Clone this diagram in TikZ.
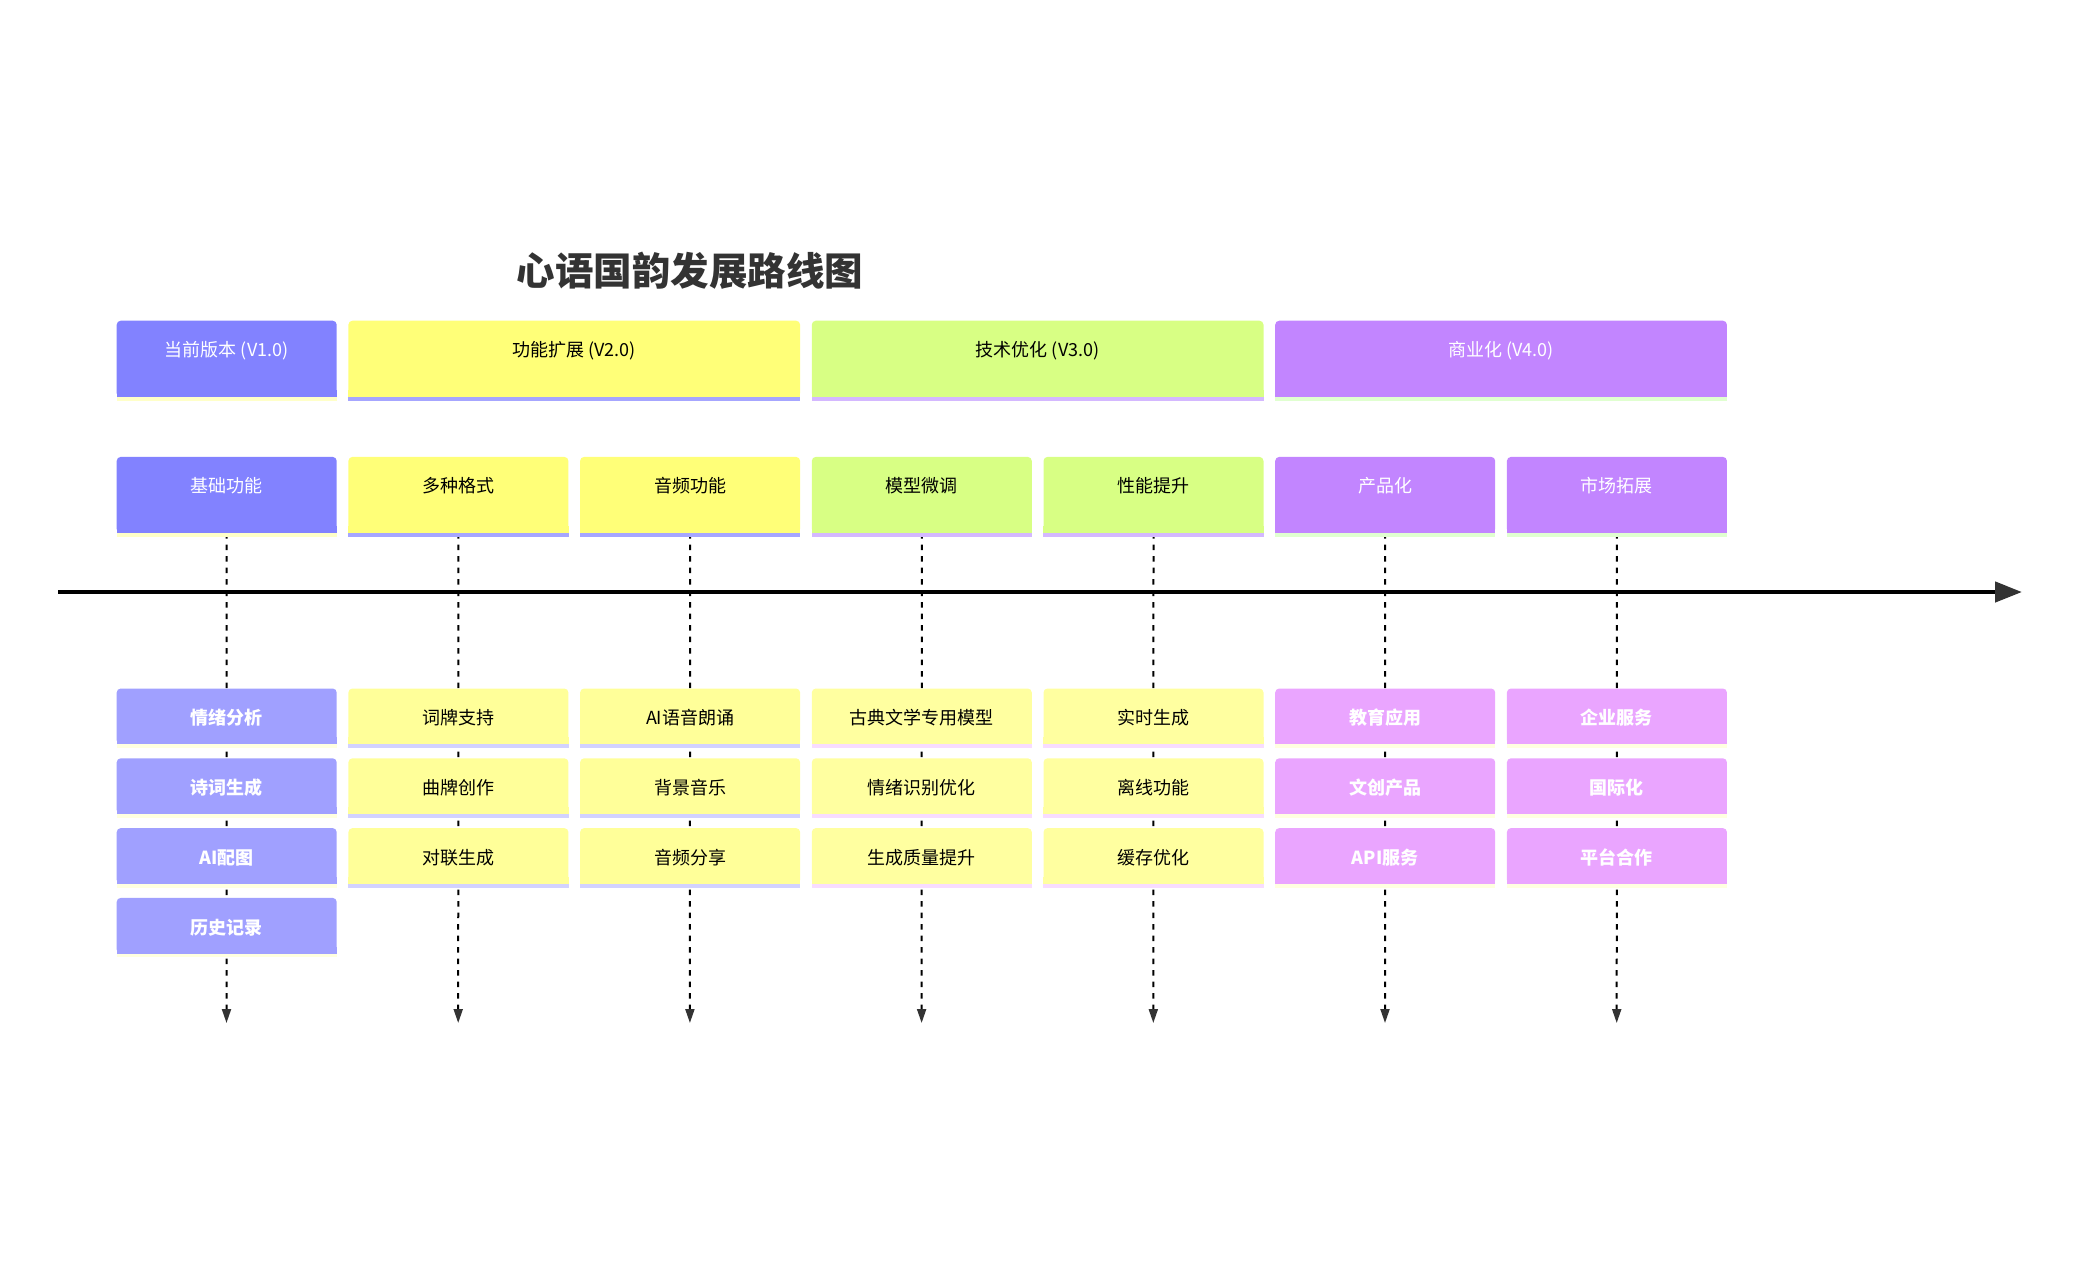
\documentclass[tikz,border=0pt]{standalone}
\usepackage{fontspec}
\setmainfont{Noto Sans CJK SC}
\usetikzlibrary{arrows.meta}
\pgfdeclarelayer{bg}
\pgfsetlayers{bg,main}
\definecolor{c333}{HTML}{333333}
\definecolor{s1}{HTML}{8282FF}\definecolor{s1s}{HTML}{FFFFC8}
\definecolor{t1}{HTML}{A0A0FF}\definecolor{t1s}{HTML}{FFFFE0}
\definecolor{s2}{HTML}{FFFF78}\definecolor{s2s}{HTML}{A6A6FF}
\definecolor{t2}{HTML}{FFFF99}\definecolor{t2s}{HTML}{D2D2FF}
\definecolor{s3}{HTML}{D8FF84}\definecolor{s3s}{HTML}{D4B8FF}
\definecolor{t3}{HTML}{FFFFA0}\definecolor{t3s}{HTML}{F8DCFF}
\definecolor{s4}{HTML}{C285FF}\definecolor{s4s}{HTML}{E0FFD0}
\definecolor{t4}{HTML}{EAA5FF}\definecolor{t4s}{HTML}{FFFFE0}
\tikzset{
  tlb/.style={rounded corners=4pt, inner sep=0pt, anchor=north west, font=\fontsize{18}{20}\selectfont},
  hdr/.style={text height=14pt, text depth=19pt},
  itm/.style={text height=21pt, text depth=4pt},
  wt/.style={text=white},
  bk/.style={text=black},
  wtb/.style={text=white, font=\bfseries\fontsize{18}{20}\selectfont},
  dashline/.style={draw=black, line width=2pt, dash pattern=on 5.5pt off 6pt, -{Triangle[length=14pt,width=9pt,fill=c333,color=c333]}},
  axisline/.style={draw=black, line width=4.5pt, -{Triangle[length=27pt,width=20pt,fill=c333,color=c333]}},
}
\newcommand\tlbox[8]{%
  \node[tlb, fill=#6, minimum width=#4pt, minimum height=#5pt, #7] (#1) at (#2,#3) {#8};
  \fill[#6] ([yshift=7pt]#1.south west) rectangle (#1.south east);
  \fill[#6s] (#1.south west) rectangle ([yshift=-3.5pt]#1.south east);
}
\begin{document}
\begin{tikzpicture}[x=1pt,y=-1pt]
\useasboundingbox (0,0) rectangle (2076,1270);
% title
\node[font=\bfseries\fontsize{38.5}{42}\selectfont, text=c333] (title) at (690,271) {心语国韵发展路线图};
% section headers
\tlbox{sec1}{116.5}{320.5}{220}{76.5}{s1}{hdr,wt}{当前版本 (V1.0)}
\tlbox{sec2}{348.2}{320.5}{451.7}{76.5}{s2}{hdr,bk}{功能扩展 (V2.0)}
\tlbox{sec3}{811.6}{320.5}{451.7}{76.5}{s3}{hdr,bk}{技术优化 (V3.0)}
\tlbox{sec4}{1275}{320.5}{451.7}{76.5}{s4}{hdr,wt}{商业化 (V4.0)}
% feature headers
\tlbox{f1}{116.5}{456.7}{220}{76}{s1}{hdr,wt}{基础功能}
\tlbox{f2}{348.2}{456.7}{220}{76}{s2}{hdr,bk}{多种格式}
\tlbox{f3}{579.9}{456.7}{220}{76}{s2}{hdr,bk}{音频功能}
\tlbox{f4}{811.6}{456.7}{220}{76}{s3}{hdr,bk}{模型微调}
\tlbox{f5}{1043.3}{456.7}{220}{76}{s3}{hdr,bk}{性能提升}
\tlbox{f6}{1275}{456.7}{220}{76}{s4}{hdr,wt}{产品化}
\tlbox{f7}{1506.7}{456.7}{220}{76}{s4}{hdr,wt}{市场拓展}
% column 1
\tlbox{a1}{116.5}{688.3}{220}{55.7}{t1}{itm,wtb}{情绪分析}
\tlbox{a2}{116.5}{758.1}{220}{55.7}{t1}{itm,wtb}{诗词生成}
\tlbox{a3}{116.5}{827.9}{220}{55.7}{t1}{itm,wtb}{AI配图}
\tlbox{a4}{116.5}{897.7}{220}{55.7}{t1}{itm,wtb}{历史记录}
% column 2
\tlbox{b1}{348.2}{688.3}{220}{55.7}{t2}{itm,bk}{词牌支持}
\tlbox{b2}{348.2}{758.1}{220}{55.7}{t2}{itm,bk}{曲牌创作}
\tlbox{b3}{348.2}{827.9}{220}{55.7}{t2}{itm,bk}{对联生成}
% column 3
\tlbox{c1}{579.9}{688.3}{220}{55.7}{t2}{itm,bk}{AI语音朗诵}
\tlbox{c2}{579.9}{758.1}{220}{55.7}{t2}{itm,bk}{背景音乐}
\tlbox{c3}{579.9}{827.9}{220}{55.7}{t2}{itm,bk}{音频分享}
% column 4
\tlbox{d1}{811.6}{688.3}{220}{55.7}{t3}{itm,bk}{古典文学专用模型}
\tlbox{d2}{811.6}{758.1}{220}{55.7}{t3}{itm,bk}{情绪识别优化}
\tlbox{d3}{811.6}{827.9}{220}{55.7}{t3}{itm,bk}{生成质量提升}
% column 5
\tlbox{g1}{1043.3}{688.3}{220}{55.7}{t3}{itm,bk}{实时生成}
\tlbox{g2}{1043.3}{758.1}{220}{55.7}{t3}{itm,bk}{离线功能}
\tlbox{g3}{1043.3}{827.9}{220}{55.7}{t3}{itm,bk}{缓存优化}
% column 6
\tlbox{h1}{1275}{688.3}{220}{55.7}{t4}{itm,wtb}{教育应用}
\tlbox{h2}{1275}{758.1}{220}{55.7}{t4}{itm,wtb}{文创产品}
\tlbox{h3}{1275}{827.9}{220}{55.7}{t4}{itm,wtb}{API服务}
% column 7
\tlbox{k1}{1506.7}{688.3}{220}{55.7}{t4}{itm,wtb}{企业服务}
\tlbox{k2}{1506.7}{758.1}{220}{55.7}{t4}{itm,wtb}{国际化}
\tlbox{k3}{1506.7}{827.9}{220}{55.7}{t4}{itm,wtb}{平台合作}
% end coordinates
\coordinate (e1) at (226.5,1023);
\coordinate (e2) at (458.2,1023);
\coordinate (e3) at (689.9,1023);
\coordinate (e4) at (921.6,1023);
\coordinate (e5) at (1153.3,1023);
\coordinate (e6) at (1385,1023);
\coordinate (e7) at (1616.7,1023);
\coordinate (ax0) at (58,592);
\coordinate (ax1) at (2022,592);
\begin{pgfonlayer}{bg}
\foreach \i in {1,...,7} {
  \draw[dashline] (f\i.south) -- (e\i);
}
\end{pgfonlayer}
\draw[axisline] (ax0) -- (ax1);
\end{tikzpicture}
\end{document}
